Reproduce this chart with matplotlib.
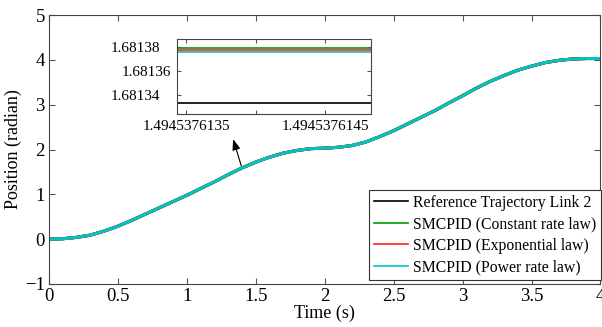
import matplotlib
matplotlib.use("Agg")
import matplotlib.pyplot as plt
from matplotlib.transforms import ScaledTranslation

plt.rcParams['font.family'] = ['Liberation Serif', 'DejaVu Serif']

# main trajectory (all four curves overlap at this scale)
t = [0.0, 0.1, 0.2, 0.3, 0.4, 0.5, 0.6, 0.7, 0.8, 0.9, 1.0, 1.1, 1.2, 1.3, 1.4,
     1.5, 1.6, 1.7, 1.8, 1.9, 2.0, 2.1, 2.2, 2.3, 2.4, 2.5, 2.6, 2.7, 2.8, 2.9,
     3.0, 3.1, 3.2, 3.3, 3.4, 3.5, 3.6, 3.7, 3.8, 3.9, 4.0]
q_ref = [0.00, 0.01, 0.04, 0.09, 0.18, 0.29, 0.42, 0.56, 0.70, 0.84, 0.98, 1.13,
         1.28, 1.44, 1.59, 1.72, 1.83, 1.92, 1.98, 2.02, 2.03, 2.05, 2.09, 2.17,
         2.29, 2.42, 2.57, 2.72, 2.87, 3.04, 3.20, 3.37, 3.52, 3.65, 3.77, 3.86,
         3.94, 3.99, 4.02, 4.03, 4.03]
q_const = q_ref
q_exp = q_ref
q_power = q_ref

# zoomed window
t_zoom = [1.49453761343, 1.49453761483]
z_ref = [1.681333, 1.681333]
z_const = [1.6813787, 1.6813787]
z_exp = [1.6813774, 1.6813774]
z_power = [1.6813756, 1.6813756]

labels = ["Reference Trajectory Link 2", "SMCPID (Constant rate law)",
          "SMCPID (Exponential law)", "SMCPID (Power rate law)"]
colors = ["black", "#00a000", "#ff2020", "#00c4c4"]

fig = plt.figure(figsize=(6.02, 3.27), dpi=100)
ax = fig.add_axes([0.0814, 0.1315, 0.9161, 0.8225])
for y, c, lab in zip([q_ref, q_const, q_exp, q_power], colors, labels):
    ax.plot(t, y, color=c, lw=2.2, label=lab)
ax.set_xlim(0, 4)
ax.set_ylim(-1, 5)
ax.set_xticks([0, 0.5, 1, 1.5, 2, 2.5, 3, 3.5, 4])
ax.set_xticklabels(["0", "0.5", "1", "1.5", "2", "2.5", "3", "3.5", "4"])
ax.set_yticks([-1, 0, 1, 2, 3, 4, 5])
ax.tick_params(direction="in", top=True, right=True, labelsize=13.5, length=4,
               color="#555555", pad=3)
for s in ax.spines.values():
    s.set_color("#444444")
ax.set_xlabel("Time (s)", fontsize=13, labelpad=0)
ax.set_ylabel("Position (radian)", fontsize=13, labelpad=2)

leg = ax.legend(loc="upper right", bbox_to_anchor=(0.9985, 0.419),
                bbox_transform=fig.transFigure, borderaxespad=0, fontsize=11.3,
                fancybox=False, framealpha=1, edgecolor="#333333",
                handlelength=2.2, handletextpad=0.3, labelspacing=0.35,
                borderpad=0.3)
leg.get_frame().set_linewidth(0.8)
for ln in leg.get_lines():
    ln.set_linewidth(1.2)

ax.annotate("", xy=(1.336, 2.23), xytext=(1.394, 1.64),
            arrowprops=dict(arrowstyle="-|>,head_width=0.3,head_length=0.8",
                            color="black", lw=0.8, mutation_scale=8,
                            shrinkA=0, shrinkB=0))

ins = fig.add_axes([0.2935, 0.6514, 0.3228, 0.2284])
for y, c in zip([z_ref, z_const, z_exp, z_power], colors):
    ins.plot(t_zoom, y, color=c, lw=1.2)
ins.set_xlim(t_zoom[0], t_zoom[1])
ins.set_ylim(1.681324, 1.681386)
ins.set_xticks([1.4945376135, 1.494537614, 1.4945376145])
ins.set_xticklabels(["1.4945376135", "", "1.4945376145"])
ins.set_yticks([1.68134, 1.68136, 1.68138])
ins.set_yticklabels(["1.68134", "1.68136", "1.68138"])
ins.tick_params(direction="in", top=True, right=True, labelsize=11, length=3,
                color="#555555", pad=4)
for s in ins.spines.values():
    s.set_color("#444444")
# first and last labels sit further left, as in the original
for i, lbl in enumerate(ins.get_yticklabels()):
    if i != 1:
        lbl.set_transform(lbl.get_transform() +
                          ScaledTranslation(-11 / 100, 0, fig.dpi_scale_trans))

fig.savefig("out.png", dpi=100)
